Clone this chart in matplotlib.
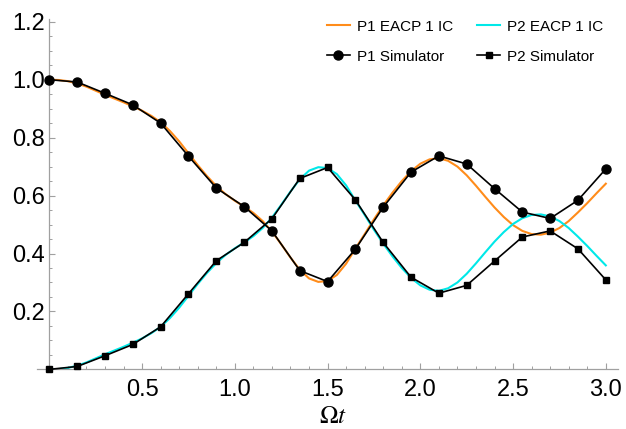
import matplotlib
matplotlib.use('Agg')
import matplotlib.pyplot as plt
from matplotlib.ticker import MultipleLocator, FixedLocator

plt.rcParams['font.family'] = ['Liberation Sans', 'DejaVu Sans']
plt.rcParams['mathtext.fontset'] = 'stix'

# simulator points, Omega t = 0, 0.15, ..., 3.0
t_sim = [0.0, 0.15, 0.3, 0.45, 0.6, 0.75, 0.9, 1.05, 1.2, 1.35, 1.5,
         1.65, 1.8, 1.95, 2.1, 2.25, 2.4, 2.55, 2.7, 2.85, 3.0]
p1_sim = [1.000, 0.992, 0.953, 0.913, 0.850, 0.736, 0.626, 0.562, 0.478, 0.341, 0.303,
          0.415, 0.560, 0.681, 0.737, 0.709, 0.624, 0.543, 0.521, 0.584, 0.692]
p2_sim = [0.000, 0.010, 0.047, 0.086, 0.147, 0.261, 0.375, 0.438, 0.520, 0.659, 0.697,
          0.585, 0.438, 0.318, 0.263, 0.290, 0.374, 0.457, 0.478, 0.416, 0.309]

# EACP 1 IC curves, read every 0.05
t_eacp = [0.00, 0.05, 0.10, 0.15, 0.20, 0.25, 0.30, 0.35, 0.40, 0.45,
          0.50, 0.55, 0.60, 0.65, 0.70, 0.75, 0.80, 0.85, 0.90, 0.95,
          1.00, 1.05, 1.10, 1.15, 1.20, 1.25, 1.30, 1.35, 1.40, 1.45,
          1.50, 1.55, 1.60, 1.65, 1.70, 1.75, 1.80, 1.85, 1.90, 1.95,
          2.00, 2.05, 2.10, 2.15, 2.20, 2.25, 2.30, 2.35, 2.40, 2.45,
          2.50, 2.55, 2.60, 2.65, 2.70, 2.75, 2.80, 2.85, 2.90, 2.95, 3.00]
p1_eacp = [1.000, 0.999, 0.995, 0.987, 0.976, 0.962, 0.948, 0.935, 0.922, 0.908,
           0.893, 0.875, 0.853, 0.823, 0.787, 0.746, 0.705, 0.667, 0.633, 0.605,
           0.582, 0.562, 0.540, 0.512, 0.476, 0.432, 0.386, 0.344, 0.314, 0.302,
           0.305, 0.326, 0.365, 0.417, 0.467, 0.518, 0.566, 0.610, 0.650, 0.684,
           0.710, 0.725, 0.729, 0.720, 0.700, 0.670, 0.634, 0.596, 0.559, 0.526,
           0.498, 0.478, 0.467, 0.465, 0.472, 0.488, 0.512, 0.542, 0.574, 0.608, 0.641]
p2_eacp = [0.000, 0.001, 0.005, 0.013, 0.024, 0.038, 0.052, 0.065, 0.078, 0.092,
           0.107, 0.125, 0.147, 0.177, 0.213, 0.254, 0.295, 0.333, 0.367, 0.395,
           0.418, 0.438, 0.460, 0.488, 0.524, 0.568, 0.614, 0.656, 0.686, 0.698,
           0.695, 0.674, 0.635, 0.583, 0.533, 0.482, 0.434, 0.390, 0.350, 0.316,
           0.290, 0.275, 0.271, 0.280, 0.300, 0.330, 0.366, 0.404, 0.441, 0.474,
           0.502, 0.522, 0.533, 0.535, 0.528, 0.512, 0.488, 0.458, 0.426, 0.392, 0.359]

fig = plt.figure(figsize=(6.26, 4.29), dpi=100)
ax = fig.add_axes([0.059, 0.139, 0.928, 0.817])

ax.plot(t_eacp, p1_eacp, color='#ff8c1a', lw=1.5, label='P1 EACP 1 IC', zorder=2)
ax.plot(t_eacp, p2_eacp, color='#00e8e8', lw=1.5, label='P2 EACP 1 IC', zorder=2)
ax.plot(t_sim, p1_sim, color='black', lw=1.2, marker='o', ms=6.5,
        label='P1 Simulator', zorder=3, clip_on=False)
ax.plot(t_sim, p2_sim, color='black', lw=1.2, marker='s', ms=5,
        label='P2 Simulator', zorder=3, clip_on=False)

ax.set_xlim(-0.067, 3.065)
ax.set_ylim(0, 1.21)

for side in ['top', 'right']:
    ax.spines[side].set_visible(False)
ax.spines['left'].set_position(('data', 0))
ax.spines['bottom'].set_position(('data', 0))
for side in ['left', 'bottom']:
    ax.spines[side].set_color('#a0a0a0')
    ax.spines[side].set_linewidth(0.9)

ax.xaxis.set_major_locator(FixedLocator([0.5, 1.0, 1.5, 2.0, 2.5, 3.0]))
ax.xaxis.set_minor_locator(MultipleLocator(0.1))
ax.yaxis.set_major_locator(FixedLocator([0.2, 0.4, 0.6, 0.8, 1.0, 1.2]))
ax.yaxis.set_minor_locator(MultipleLocator(0.05))
ax.set_xticklabels(['0.5', '1.0', '1.5', '2.0', '2.5', '3.0'])
ax.set_yticklabels(['0.2', '0.4', '0.6', '0.8', '1.0', '1.2'])
ax.tick_params(which='both', direction='in', color='#a0a0a0', labelsize=17)
ax.tick_params(axis='x', which='major', length=4, width=0.8, pad=7)
ax.tick_params(axis='y', which='major', length=4, width=0.8, pad=3)
ax.tick_params(which='minor', length=2.2, width=0.7)

fig.text(333 / 626, 1 - 416 / 429, r'$\Omega t$', fontsize=18, ha='center', va='center')

h, l = ax.get_legend_handles_labels()
order = [0, 2, 1, 3]
ax.legend([h[i] for i in order], [l[i] for i in order], ncol=2,
          loc='upper right', bbox_to_anchor=(617 / 626, 1 - 6 / 429),
          bbox_transform=fig.transFigure, frameon=False, fontsize=11,
          handlelength=1.5, handletextpad=0.45, columnspacing=1.6, labelspacing=1.05)

fig.savefig('out.png', dpi=100)
